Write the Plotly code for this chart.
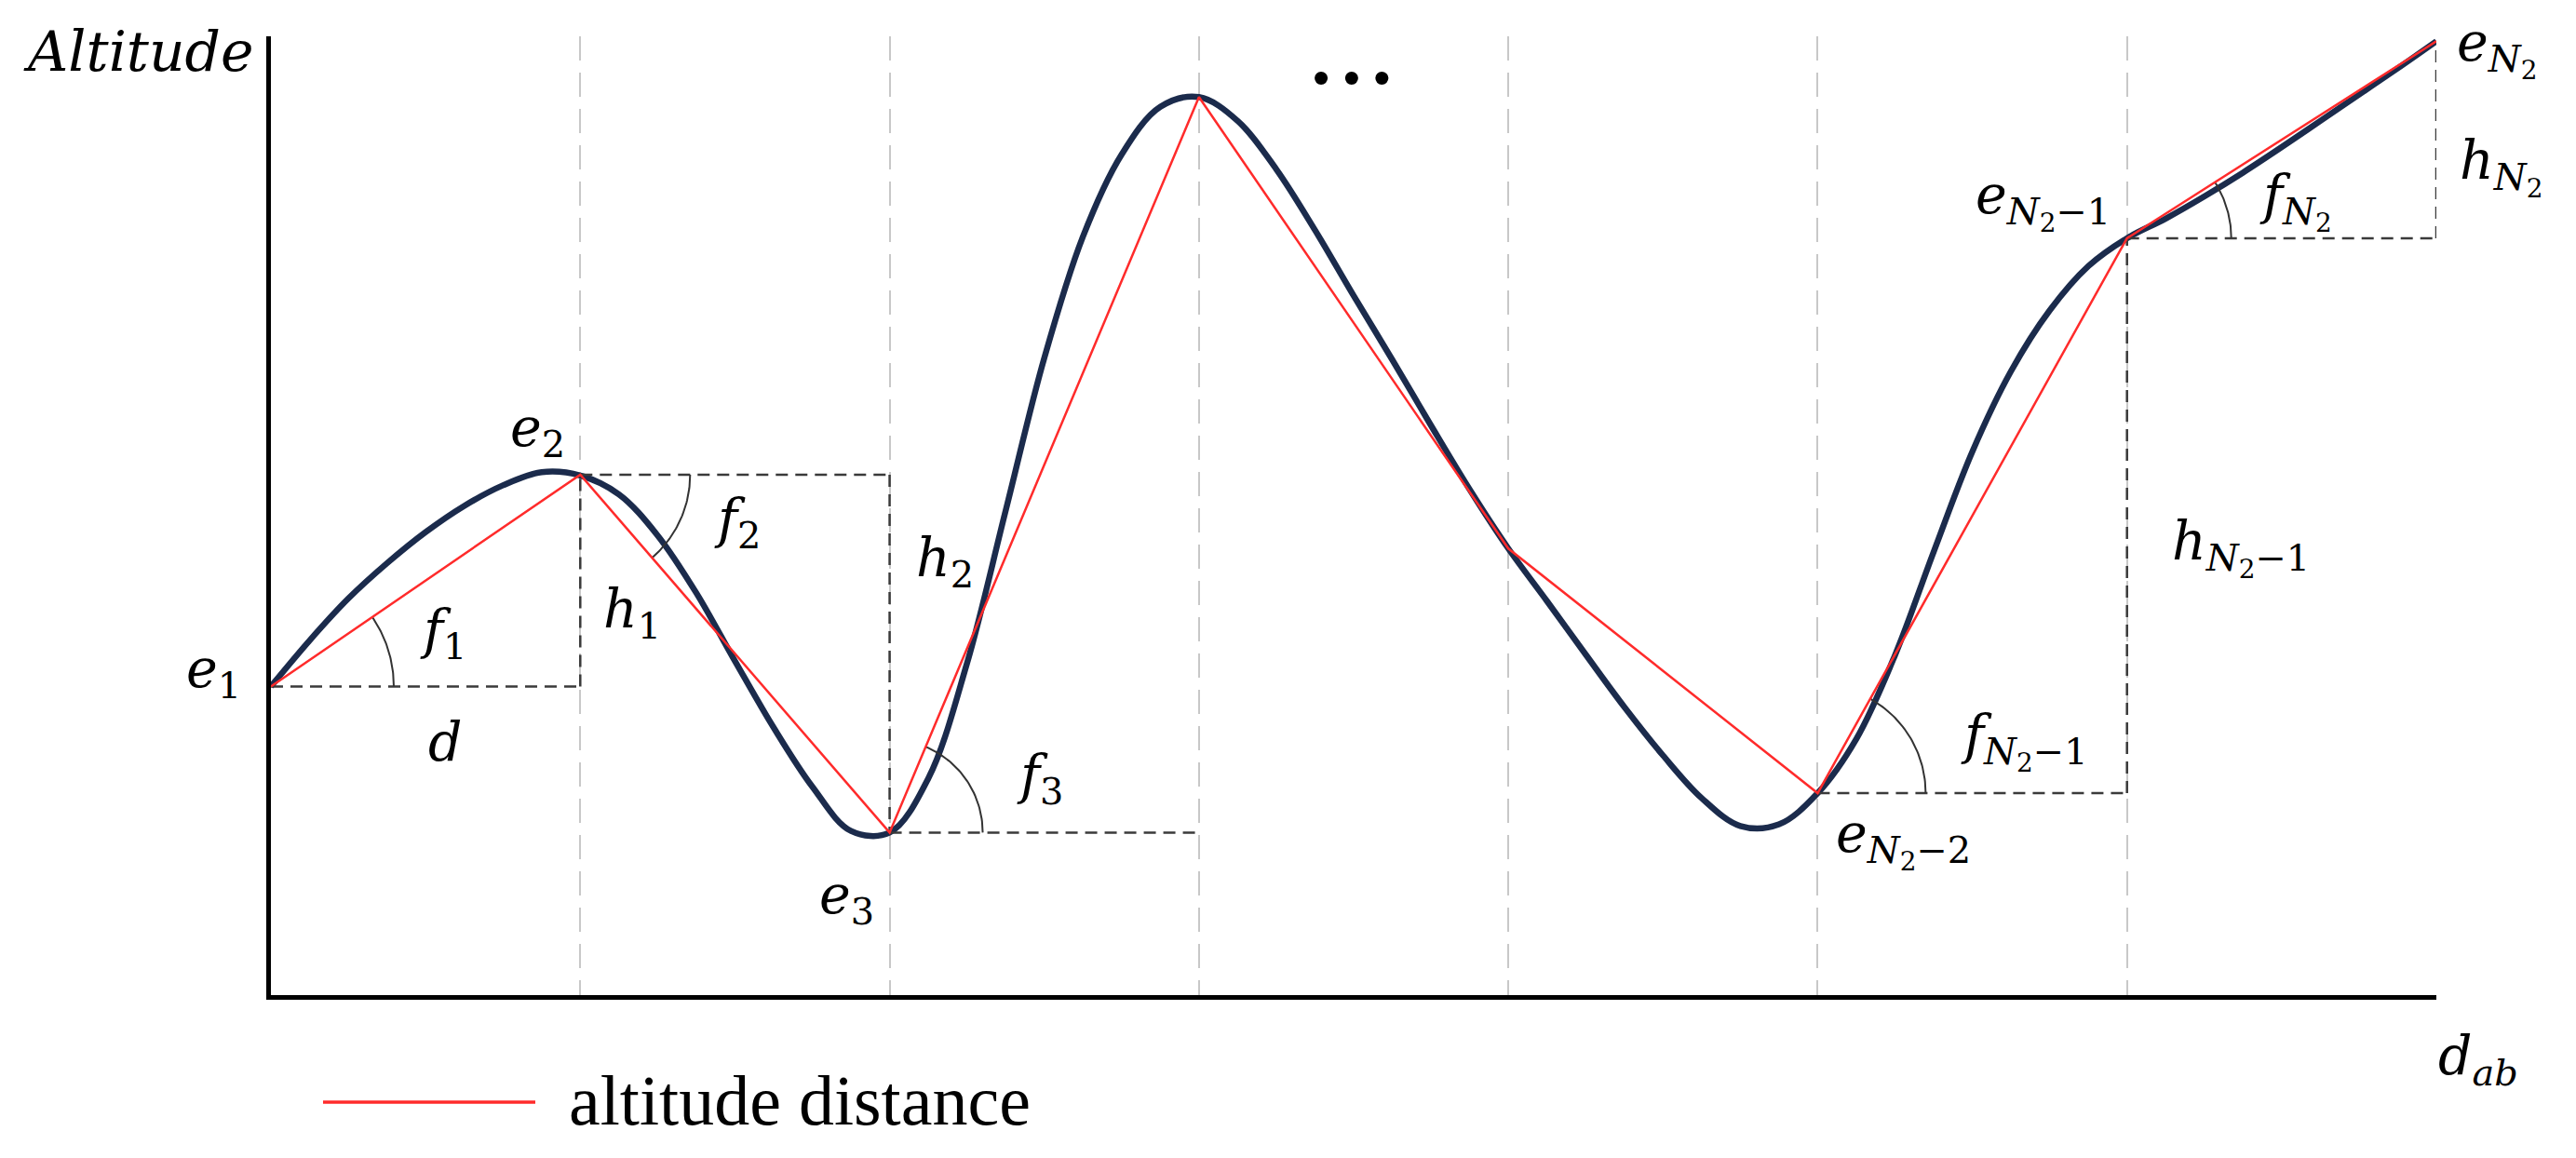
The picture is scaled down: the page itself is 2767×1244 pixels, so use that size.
import math
import plotly.graph_objects as go

# ---------------- data ----------------
# vertices e_1 ... e_N2 of the altitude profile (segment index, altitude)
E_X = [0, 1, 2, 3, 4, 5, 6, 7]
E_Y = [1.88, 3.17, 0.99, 5.47, 2.72, 1.23, 4.61, 5.81]

# smooth terrain curve
CURVE_X = [0.0, 0.125, 0.25, 0.375, 0.5, 0.625, 0.75, 0.875,
           1.0, 1.125, 1.25, 1.375, 1.5, 1.625, 1.75, 1.875,
           2.0, 2.125, 2.25, 2.375, 2.5, 2.625, 2.75, 2.875,
           3.0, 3.125, 3.25, 3.375, 3.5, 3.625, 3.75, 3.875,
           4.0, 4.125, 4.25, 4.375, 4.5, 4.625, 4.75, 4.875,
           5.0, 5.125, 5.25, 5.375, 5.5, 5.625, 5.75, 5.875,
           6.0, 6.125, 6.25, 6.375, 6.5, 6.625, 6.75, 6.875, 7.0]
CURVE_Y = [1.88, 2.16, 2.415, 2.63, 2.82, 2.98, 3.105, 3.185,
           3.165, 3.05, 2.80, 2.45, 2.035, 1.63, 1.27, 1.0,
           0.99, 1.32, 2.02, 2.95, 3.88, 4.62, 5.12, 5.41,
           5.47, 5.325, 5.03, 4.66, 4.26, 3.87, 3.47, 3.08,
           2.72, 2.40, 2.075, 1.755, 1.46, 1.20, 1.03, 1.04,
           1.23, 1.56, 2.07, 2.70, 3.31, 3.80, 4.17, 4.44,
           4.61, 4.73, 4.865, 5.01, 5.165, 5.325, 5.485, 5.645, 5.81]

X_MAX = 7
Y_MAX = 5.84
LEGEND_NAME = "altitude distance"

# ---------------- layout geometry ----------------
W, H = 2767, 1244
ML, MR, MT, MB = 291, 150, 39, 175
PW, PH = W - ML - MR, H - MT - MB
PXX = PW / X_MAX       # pixels per x unit
PXY = PH / Y_MAX       # pixels per y unit

NAVY = "#1b2b4c"
RED = "#ff2b2b"
DARK = "#3a3a3a"
MATH_FONT = "DejaVu Serif"


def px2paper(px, py):
    return (px - ML) / PW, (H - MB - py) / PH


fig = go.Figure()

# terrain curve
fig.add_trace(go.Scatter(x=CURVE_X, y=CURVE_Y, mode="lines", showlegend=False,
                         line=dict(color=NAVY, width=6.5, shape="spline", smoothing=1.0),
                         hoverinfo="skip"))

# black dashed construction lines (derived from the vertices)
dx, dy = [], []
def seg(x0, y0, x1, y1):
    dx.extend([x0, x1, None]); dy.extend([y0, y1, None])

seg(E_X[0], E_Y[0], E_X[1], E_Y[0]); seg(E_X[1], E_Y[0], E_X[1], E_Y[1])
seg(E_X[1], E_Y[1], E_X[2], E_Y[1]); seg(E_X[2], E_Y[1], E_X[2], E_Y[2])
seg(E_X[2], E_Y[2], E_X[3], E_Y[2])
seg(E_X[5], E_Y[5], E_X[6], E_Y[5]); seg(E_X[6], E_Y[5], E_X[6], E_Y[6])
seg(E_X[6], E_Y[6], E_X[7], E_Y[6]); seg(E_X[7], E_Y[6], E_X[7], E_Y[7])
fig.add_trace(go.Scatter(x=dx, y=dy, mode="lines", showlegend=False, hoverinfo="skip",
                         line=dict(color=DARK, width=2.5, dash="13px,8px")))

# angle arcs
ax, ay = [], []
def arc(i, j, r):
    cx, cy = E_X[i], E_Y[i]
    ang = math.atan2((E_Y[j] - E_Y[i]) * PXY, (E_X[j] - E_X[i]) * PXX)
    n = 40
    for k in range(n + 1):
        a = ang * k / n
        ax.append(cx + r * math.cos(a) / PXX)
        ay.append(cy + r * math.sin(a) / PXY)
    ax.append(None); ay.append(None)

arc(0, 1, 132)
arc(1, 2, 118)
arc(2, 3, 100)
arc(5, 6, 116)
arc(6, 7, 112)
fig.add_trace(go.Scatter(x=ax, y=ay, mode="lines", showlegend=False, hoverinfo="skip",
                         line=dict(color="#333333", width=2)))

# red altitude-distance polyline
fig.add_trace(go.Scatter(x=E_X, y=E_Y, mode="lines", name=LEGEND_NAME, showlegend=False,
                         line=dict(color=RED, width=2.5), hoverinfo="skip"))

# ---------------- labels ----------------
N2 = "<i>N</i><sub>2</sub>"
LABELS = [
    ("<i>Altitude</i>", 149, 55, 60),
    ("<i>e</i><sub>1</sub>", 229, 722, 57),
    ("<i>e</i><sub>2</sub>", 577, 463, 57),
    ("<i>f</i><sub>1</sub>", 476, 680, 57),
    ("<i>d</i>", 478, 797, 57),
    ("<i>h</i><sub>1</sub>", 679, 658, 57),
    ("<i>f</i><sub>2</sub>", 792, 561, 57),
    ("<i>h</i><sub>2</sub>", 1015, 603, 57),
    ("<i>e</i><sub>3</sub>", 909, 965, 57),
    ("<i>f</i><sub>3</sub>", 1117, 836, 57),
    ("<i>e</i><sub>" + N2 + "−1</sub>", 2194, 216, 57),
    ("<i>f</i><sub>" + N2 + "</sub>", 2466, 216, 57),
    ("<i>e</i><sub>" + N2 + "</sub>", 2682, 52, 57),
    ("<i>h</i><sub>" + N2 + "</sub>", 2686, 179, 57),
    ("<i>h</i><sub>" + N2 + "−1</sub>", 2407, 588, 57),
    ("<i>f</i><sub>" + N2 + "−1</sub>", 2174, 796, 57),
    ("<i>e</i><sub>" + N2 + "−2</sub>", 2044, 902, 57),
    ("<i>d</i><sub><i>ab</i></sub>", 2662, 1138, 57),
]
for txt, px, py, fs in LABELS:
    xp, yp = px2paper(px, py)
    fig.add_annotation(x=xp, y=yp, xref="paper", yref="paper", text=txt, showarrow=False,
                       xanchor="center", yanchor="middle",
                       font=dict(family=MATH_FONT, size=fs, color="black"))

# ellipsis
xp, yp = px2paper(1452, 52)
fig.add_annotation(x=xp, y=yp, xref="paper", yref="paper", text="• • •", showarrow=False,
                   font=dict(family="Liberation Sans", size=52, color="black"))

# legend (drawn manually, long line sample)
x0p, yl = px2paper(347, 1184)
x1p, _ = px2paper(575, 1184)
fig.add_shape(type="line", xref="paper", yref="paper", x0=x0p, x1=x1p, y0=yl, y1=yl,
              line=dict(color=RED, width=3.5))
xt, yt = px2paper(609, 1182)
fig.add_annotation(x=xt, y=yt, xref="paper", yref="paper", text=LEGEND_NAME, showarrow=False,
                   xanchor="left", yanchor="middle",
                   font=dict(family="Liberation Serif", size=76, color="black"))

fig.update_layout(
    width=W, height=H, margin=dict(l=ML, r=MR, t=MT, b=MB, pad=0),
    paper_bgcolor="white", plot_bgcolor="white", showlegend=False,
    xaxis=dict(range=[0, X_MAX], showline=True, linecolor="black", linewidth=5,
               showgrid=True, gridcolor="#c8c8c8", gridwidth=2, griddash="26px,13px",
               tickvals=E_X[1:], showticklabels=False, ticks="", zeroline=False),
    yaxis=dict(range=[0, Y_MAX], showline=True, linecolor="black", linewidth=5,
               showgrid=False, showticklabels=False, ticks="", zeroline=False),
)

fig.write_html("out.html", config={"displayModeBar": False},
               post_script="document.body.style.margin='0';document.body.style.overflow='hidden';")
